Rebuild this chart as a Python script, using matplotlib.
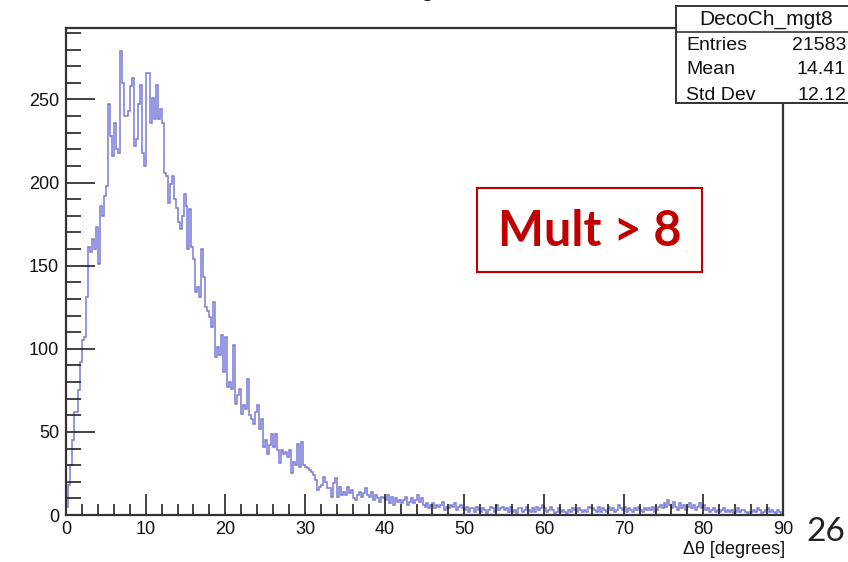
import numpy as np
import matplotlib
matplotlib.use("Agg")
import matplotlib.pyplot as plt
from matplotlib.ticker import MultipleLocator
from matplotlib.patches import Rectangle

# ---------------- data (0.25 degree bins) ----------------
bin_width = 0.25
x_min, x_max = 0, 90

counts_0_20 = [
    5, 18, 30, 45,      62, 62, 75, 92,      105, 107, 131, 161,  158, 166, 160, 173,
    151, 186, 180, 192, 198, 247, 228, 216,  236, 220, 218, 279,  260, 240, 240, 243,
    258, 263, 222, 226, 247, 259, 218, 210,  266, 266, 236, 251,  238, 259, 238, 244,
    236, 206, 204, 188, 199, 204, 190, 185,  176, 172, 180, 193,  186, 160, 184, 161,
    154, 134, 137, 131, 160, 143, 125, 123,  119, 113, 128, 95,   101, 96, 108, 86,
]
counts_20_50 = [
    107, 77, 80, 76,  102, 67, 72, 76,  61, 66, 64, 82,  60, 58, 55, 62,  66, 52, 58, 41,
    45, 37, 42, 49,   41, 49, 39, 31,   39, 37, 38, 35,  39, 25, 32, 30,  43, 29, 44, 30,
    29, 28, 27, 26,   24, 21, 15, 17,   18, 23, 20, 16,  16, 11, 19, 22,  11, 17, 12, 14,
    12, 17, 13, 15,   10, 9, 12, 14,    11, 13, 16, 12,  11, 14, 9, 12,   10, 8, 11, 10,
    9, 12, 7, 11,     6, 10, 8, 9,      7, 9, 11, 6,     8, 10, 7, 9,     12, 8, 10, 6,
    5, 7, 4, 6,       7, 4, 6, 5,       6, 8, 3, 5,      4, 6, 5, 7,      3, 5, 6, 4,
]
counts_50_90 = [
    3, 5, 2, 4,  4, 2, 5, 3,  2, 4, 3, 1,  3, 5, 4, 2,  6, 3, 4, 5,
    3, 4, 2, 5,  2, 3, 1, 4,  4, 2, 3, 5,  3, 2, 4, 2,  5, 3, 4, 6,
    4, 2, 3, 5,  3, 1, 2, 4,  2, 3, 2, 1,  3, 2, 4, 3,  2, 4, 3, 2,
    3, 2, 5, 4,  4, 3, 2, 5,  2, 4, 3, 2,  5, 3, 4, 2,  3, 6, 4, 3,
    5, 2, 4, 3,  2, 4, 3, 5,  3, 2, 4, 3,  4, 3, 5, 2,  3, 5, 6, 4,
    7, 5, 9, 6,  4, 8, 5, 3,  7, 4, 6, 3,  5, 7, 4, 6,  3, 5, 7, 4,
    6, 3, 4, 2,  3, 4, 2, 3,  2, 3, 4, 2,  3, 2, 3, 1,  2, 4, 2, 3,
    3, 2, 1, 2,  2, 3, 2, 4,  3, 1, 2, 3,  4, 2, 3, 2,  1, 3, 2, 0,
]
counts = np.array(counts_0_20 + counts_20_50 + counts_50_90, dtype=float)
edges = np.arange(len(counts) + 1) * bin_width

y_ticks = [0, 50, 100, 150, 200, 250]
x_ticks = [0, 10, 20, 30, 40, 50, 60, 70, 80, 90]

stats_name = "DecoCh_mgt8"
stats_labels = ["Entries", "Mean", "Std Dev"]
stats_values = ["21583", "14.41", "12.12"]
x_label = "\u0394\u03b8 [degrees]"
annotation = "Mult > 8"
page_number = "26"

# ---------------- figure ----------------
W, H = 848, 562
fig = plt.figure(figsize=(W / 100, H / 100), dpi=100)
fig.patch.set_facecolor("white")

root_font = "Liberation Sans"

def fx(px):
    return px / W

def fy(py):
    return 1 - py / H

ax_l, ax_r, ax_t, ax_b = 66, 783, 28, 515
ax = fig.add_axes([fx(ax_l), fy(ax_b), (ax_r - ax_l) / W, (ax_b - ax_t) / H])
ax.stairs(counts, edges, baseline=0, fill=False, color="#7a7ad8", linewidth=1.1)

ax.set_xlim(x_min, x_max)
ax.set_ylim(0, 293)
ax.set_xticks(x_ticks)
ax.set_yticks(y_ticks)
ax.xaxis.set_minor_locator(MultipleLocator(2))
ax.yaxis.set_minor_locator(MultipleLocator(10))
ax.tick_params(axis="both", which="both", direction="in", top=False, right=False,
               color="#222222", width=1.2)
ax.tick_params(axis="y", which="major", length=21, pad=5)
ax.tick_params(axis="y", which="minor", length=11)
ax.tick_params(axis="x", which="major", length=15, pad=4)
ax.tick_params(axis="x", which="minor", length=8)
for lab in ax.get_xticklabels() + ax.get_yticklabels():
    lab.set_fontfamily(root_font)
    lab.set_fontsize(13)
    lab.set_color("#111111")
for sp in ax.spines.values():
    sp.set_color("#333333")
    sp.set_linewidth(1.6)

fig.text(fx(785), fy(550), x_label, ha="right", va="center",
         fontsize=13, family=root_font, color="#111111")

# truncated title descender at the very top
fig.text(fx(428), fy(-4), "g", ha="center", va="baseline",
         fontsize=17, family=root_font, color="#111111")

# ---------------- stats box ----------------
bx_l, bx_t, bx_b, bx_r = 676, 6, 103, 858
hdr = 32
fig.add_artist(Rectangle((fx(bx_l), fy(bx_b)), (bx_r - bx_l) / W, (bx_b - bx_t) / H,
                         transform=fig.transFigure, facecolor="white",
                         edgecolor="#333333", linewidth=1.4, zorder=5))
fig.add_artist(plt.Line2D([fx(bx_l), fx(bx_r)], [fy(hdr), fy(hdr)],
                          transform=fig.transFigure, color="#333333",
                          linewidth=1.2, zorder=6))
fig.text(fx(766), fy(19), stats_name, ha="center", va="center",
         fontsize=15, family=root_font, color="#111111", zorder=7)
for i, (lab, val) in enumerate(zip(stats_labels, stats_values)):
    yy = 45 + i * 25
    fig.text(fx(686), fy(yy), lab, ha="left", va="center",
             fontsize=14, family=root_font, color="#111111", zorder=7)
    fig.text(fx(846), fy(yy), val, ha="right", va="center",
             fontsize=14, family=root_font, color="#111111", zorder=7)

# ---------------- annotation box ----------------
fig.add_artist(Rectangle((fx(477), fy(272)), (702 - 477) / W, (272 - 188) / H,
                         transform=fig.transFigure, facecolor="white",
                         edgecolor="#c00000", linewidth=1.5, zorder=5))
fig.text(fx(589.5), fy(232), annotation, ha="center", va="center",
         fontsize=35, fontweight="bold", family="Lato", color="#c00000", zorder=7)

# page number
fig.text(fx(826), fy(532), page_number, ha="center", va="center",
         fontsize=24, family="Lato", color="#222222")

fig.savefig("out.png", dpi=100)
